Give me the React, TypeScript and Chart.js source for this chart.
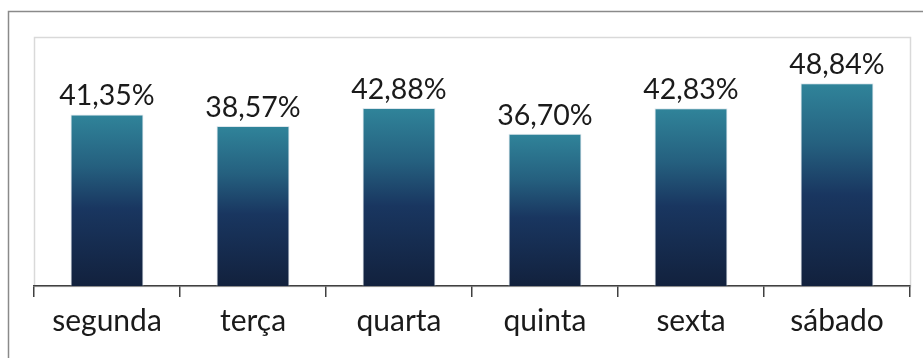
import React, { useEffect, useRef } from "react";
import { Chart, registerables, Plugin } from "chart.js";

Chart.register(...registerables);

const days = ["segunda", "terça", "quarta", "quinta", "sexta", "sábado"];
const shares = [41.35, 38.57, 42.88, 36.7, 42.83, 48.84];
const yMax = 60;

const FONT = "Lato, 'Open Sans', sans-serif";

const fmt = (v: number) => v.toFixed(2).replace(".", ",") + "%";

// Outer frame and the light plot-area box
const framePlugin: Plugin<"bar"> = {
  id: "frame",
  beforeDraw(chart) {
    const { ctx, chartArea } = chart;
    ctx.save();
    ctx.fillStyle = "#ffffff";
    ctx.fillRect(0, 0, chart.width, chart.height);
    ctx.strokeStyle = "#8a8a8a";
    ctx.lineWidth = 1.5;
    ctx.beginPath();
    ctx.moveTo(8.5, chart.height);
    ctx.lineTo(8.5, 11.5);
    ctx.lineTo(chart.width, 11.5);
    ctx.stroke();
    ctx.strokeStyle = "#d9d9d9";
    ctx.lineWidth = 1.5;
    ctx.strokeRect(
      chartArea.left + 0.5,
      chartArea.top + 0.5,
      chartArea.right - chartArea.left,
      chartArea.bottom - chartArea.top
    );
    ctx.restore();
  },
};

// Percentage labels above each bar
const valueLabels: Plugin<"bar"> = {
  id: "valueLabels",
  afterDatasetsDraw(chart) {
    const { ctx } = chart;
    const meta = chart.getDatasetMeta(0);
    ctx.save();
    ctx.font = `28.5px ${FONT}`;
    ctx.fillStyle = "#1a1a1a";
    ctx.textAlign = "center";
    ctx.textBaseline = "alphabetic";
    meta.data.forEach((bar: any, i: number) => {
      ctx.fillText(fmt(shares[i]), bar.x, bar.y - 9);
    });
    ctx.restore();
  },
};

// Vertical teal-to-navy fill spanning each bar's own height
const barFill = (c: any) => {
  const ch = c.chart;
  const y = ch.scales?.y;
  if (!y || c.dataIndex === undefined) return "#1b3a5e";
  const top = y.getPixelForValue(shares[c.dataIndex]);
  const base = y.getPixelForValue(0);
  if (!Number.isFinite(top) || !Number.isFinite(base) || top === base) return "#1b3a5e";
  const g = ch.ctx.createLinearGradient(0, top, 0, base);
  g.addColorStop(0, "#30849a");
  g.addColorStop(0.3, "#25607f");
  g.addColorStop(0.55, "#193660");
  g.addColorStop(1, "#12213d");
  return g;
};

export default function App() {
  const ref = useRef<HTMLCanvasElement>(null);

  useEffect(() => {
    if (!ref.current) return;
    const chart = new Chart(ref.current, {
      type: "bar",
      data: {
        labels: days,
        datasets: [
          {
            data: shares,
            backgroundColor: barFill,
            borderColor: "rgba(200,215,225,0.6)",
            borderWidth: 1,
            categoryPercentage: 1,
            barPercentage: 0.5,
          },
        ],
      },
      options: {
        animation: false,
        responsive: false,
        maintainAspectRatio: false,
        layout: { padding: { left: 34, right: 13, top: 37, bottom: 0 } },
        plugins: {
          legend: { display: false },
          tooltip: { enabled: false },
        },
        scales: {
          x: {
            grid: {
              display: true,
              drawOnChartArea: false,
              drawTicks: true,
              tickLength: 11,
              color: "#404040",
              lineWidth: 1.5,
            },
            border: { display: true, color: "#404040", width: 1.5 },
            ticks: {
              color: "#1a1a1a",
              font: { family: FONT, size: 30 },
              padding: 6,
              maxRotation: 0,
            },
            afterFit: (s: any) => {
              s.height = 72;
            },
          },
          y: {
            display: false,
            min: 0,
            max: yMax,
          },
        },
      },
      plugins: [framePlugin, valueLabels],
    });
    chart.update();
    return () => chart.destroy();
  }, []);

  return (
    <div style={{ position: "fixed", left: 0, top: 0, width: 923, height: 358 }}>
      <canvas ref={ref} width={923} height={358} style={{ width: 923, height: 358 }} />
    </div>
  );
}
